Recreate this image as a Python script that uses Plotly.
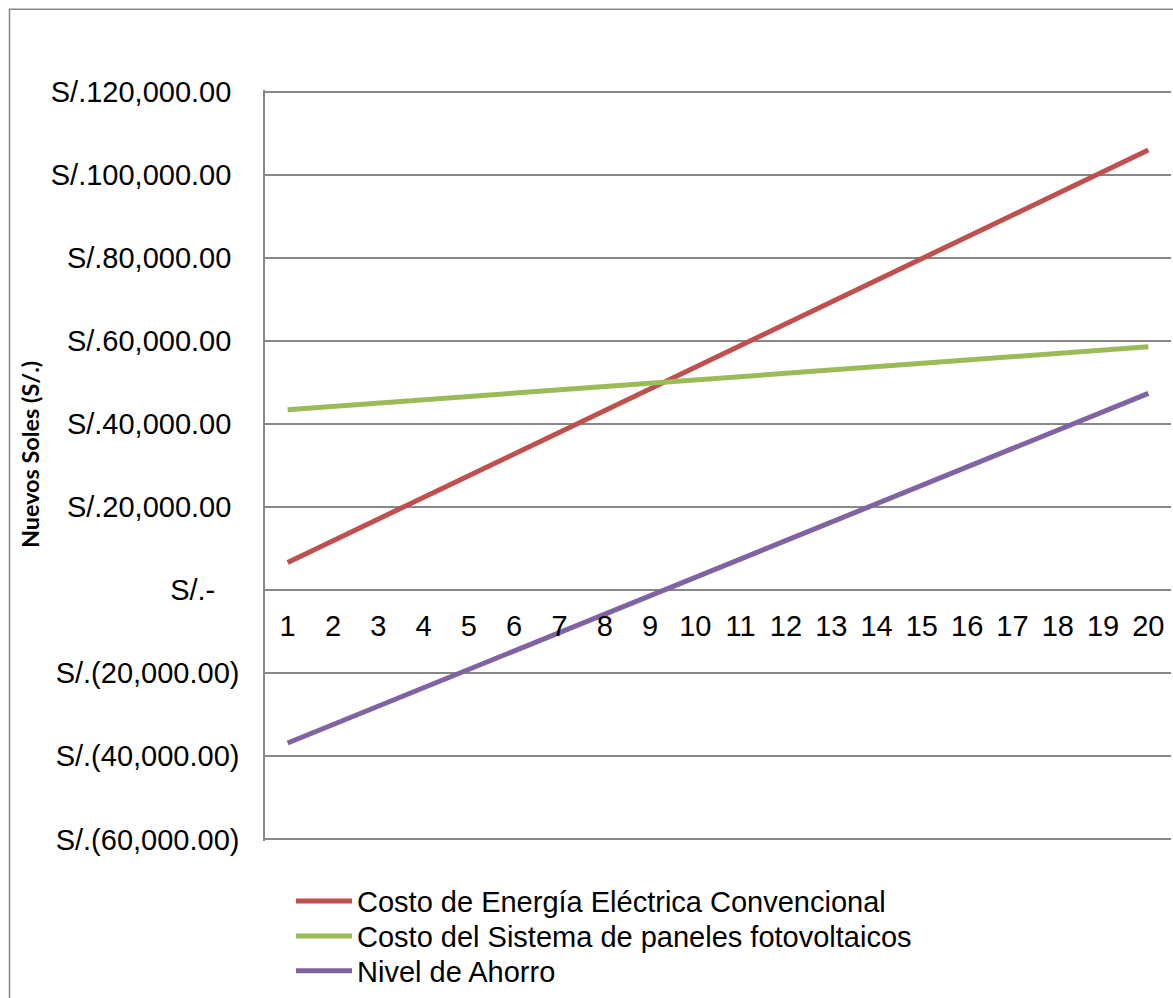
import plotly.graph_objects as go

years = list(range(1, 21))
costo_convencional = [6650, 11880, 17100, 22330, 27550, 32780, 38000, 43230, 48450, 53680,
                      58900, 64130, 69350, 74580, 79800, 85030, 90250, 95480, 100700, 105930]
costo_paneles = [43440, 44240, 45030, 45830, 46620, 47420, 48220, 49010, 49810, 50600,
                 51400, 52200, 52990, 53790, 54580, 55380, 56180, 56970, 57770, 58560]
nivel_ahorro = [-36790, -32360, -27930, -23500, -19070, -14640, -10220, -5780, -1360, 3080,
                7500, 11930, 16360, 20790, 25220, 29650, 34070, 38510, 42930, 47370]

series_names = ["Costo de Energía Eléctrica Convencional",
                "Costo del Sistema de paneles fotovoltaicos",
                "Nivel de Ahorro"]
series_colors = ["#C0504D", "#9BBB59", "#8064A2"]

y_tickvals = [120000, 100000, 80000, 60000, 40000, 20000, 0, -20000, -40000, -60000]
NB = "\u00a0"
y_ticktext = ["S/.120,000.00" + NB, "S/.100,000.00" + NB, "S/.80,000.00" + NB,
              "S/.60,000.00" + NB, "S/.40,000.00" + NB, "S/.20,000.00" + NB,
              "S/.-" + NB * 3, "S/.(20,000.00)", "S/.(40,000.00)", "S/.(60,000.00)"]

FONT = "Liberation Sans, Arial, sans-serif"
FS = 29
GRID = "#878787"

W, H = 1173, 998
y_min, y_max = -60000, 120000
edge = 1.6  # px of extra room so plotly keeps the gridlines at the range ends
ml, mr, mt, mb = 265, 2, 92 - edge, 156 - edge
pw = W - ml - mr
ph = H - mt - mb
units_per_px = (y_max - y_min) / (ph - 2 * edge)
pad = edge * units_per_px

def px_to_paper_x(px):
    return (px - ml) / pw

def px_to_paper_y(py):
    return (H - mb - py) / ph

legend_ids = ["legend", "legend2", "legend3"]
legend_rows_px = [904, 939, 974]

fig = go.Figure()
for name, vals, col, lid in zip(series_names, [costo_convencional, costo_paneles, nivel_ahorro],
                                series_colors, legend_ids):
    fig.add_trace(go.Scatter(x=years, y=vals, mode="lines", name=name, legend=lid,
                             line=dict(color=col, width=5)))

legend_layouts = {}
for lid, row in zip(legend_ids, legend_rows_px):
    legend_layouts[lid] = dict(x=px_to_paper_x(291), y=px_to_paper_y(row),
                               xanchor="left", yanchor="middle", orientation="v",
                               font=dict(family=FONT, size=FS, color="black"),
                               itemwidth=56, bgcolor="rgba(0,0,0,0)")

r0, r1 = y_min - pad, y_max + pad
fig.update_layout(
    width=W, height=H,
    margin=dict(l=ml, r=mr, t=mt, b=mb),
    paper_bgcolor="white", plot_bgcolor="white",
    font=dict(family=FONT, size=FS, color="black"),
    showlegend=True,
    **legend_layouts,
    xaxis=dict(range=[0.5, 20.5], tickmode="array", tickvals=years,
               ticktext=[str(y) for y in years], anchor="free", position=(0 - r0) / (r1 - r0),
               showgrid=False, zeroline=False, showline=False,
               ticks="", ticklabelstandoff=16, tickfont=dict(family=FONT, size=FS),
               automargin=False),
    yaxis=dict(range=[r0, r1], tickmode="array", tickvals=y_tickvals,
               ticktext=y_ticktext, showgrid=True, gridcolor=GRID, gridwidth=1.5,
               zeroline=True, zerolinecolor=GRID, zerolinewidth=1.5,
               showline=True, linecolor=GRID, linewidth=1.5,
               ticks="", ticklabelstandoff=18, tickfont=dict(family=FONT, size=FS),
               automargin=False),
    shapes=[dict(type="rect", xref="paper", yref="paper",
                 x0=px_to_paper_x(9.5), x1=px_to_paper_x(1200),
                 y0=px_to_paper_y(1020), y1=px_to_paper_y(9.5),
                 line=dict(color=GRID, width=1.5), fillcolor="rgba(0,0,0,0)", layer="below")],
    annotations=[dict(text="<b>Nuevos Soles (S/.)</b>", xref="paper", yref="paper",
                      x=px_to_paper_x(30), y=px_to_paper_y(456.5), xanchor="center",
                      yanchor="middle", textangle=-90, showarrow=False,
                      font=dict(family="Lato, Carlito, Calibri, sans-serif", size=23.4, color="black"))],
)

fig.write_html("out.html")
